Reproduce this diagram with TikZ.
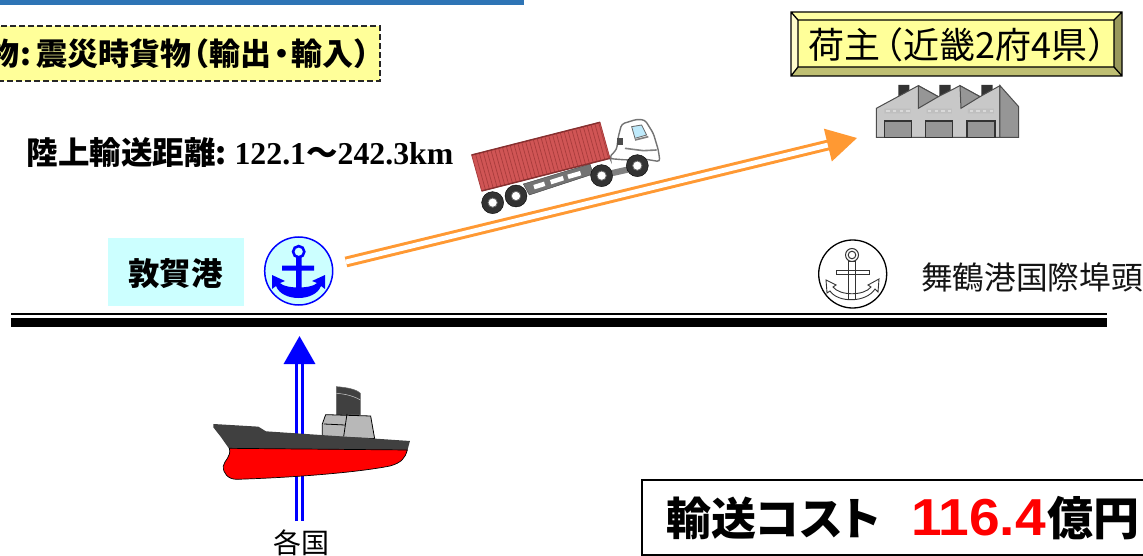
\documentclass[tikz,border=0pt]{standalone}
\usepackage{fontspec}
\usetikzlibrary{arrows.meta,calc}
\newfontfamily\cjk{Noto Sans CJK JP}
\newfontfamily\cjkp[RawFeature=+palt]{Noto Sans CJK JP}
\newfontfamily\timesbold{Liberation Serif}
\newfontfamily\arialbold[FakeStretch=1.06]{Liberation Sans}
\definecolor{topblue}{HTML}{2E74B5}
\definecolor{paleyellow}{HTML}{FFFF99}
\definecolor{palecyan}{HTML}{CCFFFF}
\definecolor{routeorange}{HTML}{FF9933}
\definecolor{hullgray}{HTML}{404040}
\definecolor{boxred}{HTML}{D05555}
\definecolor{boxreddark}{HTML}{A83C3C}
\definecolor{facgray}{HTML}{C8C8C8}
\definecolor{facdark}{HTML}{969696}
\newcommand{\pxfont}[1]{\fontsize{#1}{#1}\selectfont}
\tikzset{
  x=1pt,y=-1pt,
  txt/.style={inner sep=0pt,outer sep=0pt,anchor=base west,text=black},
  railthin/.style={line width=2.6pt,draw=black,line cap=butt},
  railthick/.style={line width=9pt,draw=black,line cap=butt},
  orangeroute/.style={draw=routeorange,line width=3pt,double=white,double distance=4.8pt,
     -{Triangle[length=30pt,width=33pt]}},
  blueroute/.style={draw=blue,line width=3.5pt,double=white,double distance=2.7pt,
     -{Triangle[length=28pt,width=31pt]}},
  zoomtwo/.style={shift={(440,90)},x=0.3333pt,y=-0.3333pt},
  zoomthree/.style={shift={(780,0)},x=0.3333pt,y=-0.3333pt},
  zoomsix/.style={shift={(200,340)},x=0.3333pt,y=-0.3333pt},
  wheeltire/.style={fill=black!80,draw=black},
  wheelhub/.style={fill=white,draw=black!60,line width=.8pt},
}
\begin{document}
\begin{tikzpicture}
\useasboundingbox (0,0) rectangle (1143,556);
\clip (0,0) rectangle (1143,556);
\fill[white] (0,0) rectangle (1143,556);

% top bar
\fill[topblue] (0,0) rectangle (524,5);

% dashed title box
\draw[fill=paleyellow,draw=black!85,line width=1.5pt,dash pattern=on 6pt off 3pt] (-10,26) rectangle (380,81);
\node[txt] (cargo) at (-11,66) {\cjk\bfseries\pxfont{31}物\kern1pt{:}\kern4.5pt 震災時貨物\kern-12.5pt（輸出\kern-5.5pt・\kern-5.5pt輸入）};

% distance
\node[txt] (dist) at (27,165) {\cjk\bfseries\pxfont{31.5}陸上輸送距離{:}\kern7.5pt\timesbold\bfseries\pxfont{31.8}122.1\cjk\bfseries\pxfont{31.5}～\timesbold\bfseries\pxfont{31.8}242.3km};

% shipper box
\fill[paleyellow] (791,12) rectangle (1122,76);
\fill[paleyellow!90!white] (791,12) -- (1122,12) -- (1114,20) -- (798,20) -- cycle;
\fill[yellow!20!white] (791,12) -- (798,20) -- (798,67) -- (791,76) -- cycle;
\fill[paleyellow!75!black] (791,76) -- (798,67) -- (1114,67) -- (1122,76) -- cycle;
\fill[paleyellow!60!black] (1122,12) -- (1114,20) -- (1114,67) -- (1122,76) -- cycle;
\draw[black,line width=1.3pt] (791,12) rectangle (1122,76) (798,20) rectangle (1114,67)
  (791,12) -- (798,20) (1122,12) -- (1114,20) (791,76) -- (798,67) (1122,76) -- (1114,67);
\node[txt] (shipper) at (808,59) {\cjk\pxfont{36}荷主\kern-12.6pt（近畿2府4県）};

% factory
\begin{scope}[zoomthree]
  \fill[black!80] (355,255) rectangle (388,290) (478,255) rectangle (512,290) (604,255) rectangle (638,290);
  \fill[facgray,draw=black!70,line width=1pt] (289,325) -- (415,257) -- (475,290) -- (540,257) -- (600,290) -- (660,257) -- (660,412) -- (289,412) -- cycle;
  \fill[facdark,draw=black!70,line width=1pt] (415,257) -- (475,290) -- (415,325) -- cycle
     (540,257) -- (600,290) -- (543,325) -- cycle (660,257) -- (716,320) -- (716,412) -- (660,412) -- cycle;
  \fill[facdark,draw=black!80,line width=1.2pt] (313,363) rectangle (395,412) (437,363) rectangle (518,412) (561,363) rectangle (645,412);
  \fill[black!25] (313,326) rectangle (392,340) (440,326) rectangle (516,340) (564,326) rectangle (642,340);
  \foreach \qx in {325,345,365,385,450,470,490,510,575,595,615,635}
    \fill[white!85!black] (\qx-6,330) rectangle (\qx+4,336);
\end{scope}

% truck
\begin{scope}[zoomtwo]
  \fill[black!55,draw=black!75] (250,282) -- (450,222) -- (460,252) -- (268,315) -- cycle;
  \fill[white] (280,285) -- (312,275) -- (316,288) -- (284,298) -- cycle
     (330,270) -- (368,258) -- (372,271) -- (334,283) -- cycle
     (382,254) -- (420,243) -- (424,256) -- (386,267) -- cycle;
  \fill[black!50] (515,240) -- (560,230) -- (565,248) -- (520,258) -- cycle;
  \filldraw[fill=white,draw=black!55,line width=1.4pt,rounded corners=3pt] (508,202) -- (530,178) -- (535,140) -- (545,102) -- (590,88) -- (615,90) -- (640,130) -- (655,180) -- (660,215) -- (600,205) -- (560,210) -- (510,206) -- cycle;
  \filldraw[fill=cyan!25,draw=black!60,line width=.8pt] (575,110) -- (605,105) -- (620,135) -- (585,145) -- cycle;
  \draw[black!50,line width=1.6pt] (585,150) -- (625,140) (555,175) -- (610,182) -- (650,180);
  \fill[black!70] (532,145) rectangle (548,165);
  \fill[boxred,draw=boxreddark,line width=.8pt] (95,195) -- (480,97) -- (510,205) -- (125,303) -- cycle;
  \foreach \qt in {0.03,0.06,...,1.0}
    \draw[boxreddark,line width=.7pt] ($(95,195)!\qt!(480,97)$) -- ($(125,303)!\qt!(510,205)$);
  \draw[boxreddark!80!black,line width=1.4pt] (95,195) -- (480,97) (125,303) -- (510,205);
  \foreach \qx/\qy in {158/338,228/318,485/257,592/227}{
    \fill[wheeltire] (\qx,\qy) circle[radius=33];
    \fill[wheelhub] (\qx,\qy) circle[radius=14];
  }
\end{scope}

% port box
\fill[palecyan] (108,238) rectangle (244,306);
\node[txt] (tsuruga) at (128,285) {\cjk\bfseries\pxfont{31.5}敦賀港};

% blue anchor
\node[circle,draw=blue,fill=palecyan,line width=1.5pt,minimum size=68pt,inner sep=0pt] (portsym) at (298.7,271) {};
\draw[blue,line width=2.6pt] (298.7,251.7) circle[radius=5.6];
\fill[blue] (296,257) rectangle (301.6,294) (282,265.5) rectangle (314,270.5);
\fill[blue] (272,275) -- (285,281) -- (280,283) .. controls (285,289) and (312,289) .. (317,283) -- (312,281) -- (325,275) -- (325,289) -- (321,286) .. controls (315,302) and (282,302) .. (276,286) -- (272,289) -- cycle;

% maizuru anchor
\node[circle,draw=black,fill=white,line width=1.3pt,minimum size=68pt,inner sep=0pt] (maizurusym) at (852.7,274) {};
\draw[black!80,line width=1pt] (852,255) circle[radius=6.5] (852,255) circle[radius=3.8];
\draw[black!80,line width=.9pt,fill=white] (848.5,261) rectangle (855.5,299) (836,270) rectangle (869,274);
\draw[black!80,line width=.9pt] (826,280) -- (836,285) -- (833,287) .. controls (840,296) and (864,296) .. (871,287) -- (868,285) -- (879,279) -- (878,292) -- (875,289) .. controls (866,303) and (838,303) .. (830,291) -- (827,293) -- cycle;
\node[txt] (maizuru) at (921,289) {\cjk\pxfont{31.7}\color{black!92}舞鶴港国際埠頭};

% rails
\coordinate (railL) at (11,314);
\coordinate (railR) at (1107,314);
\coordinate (railLb) at (11,322.5);
\coordinate (railRb) at (1107,322.5);
\draw[railthin] (railL) -- (railR);
\draw[railthick] (railLb) -- (railRb);

% routes
\coordinate (orangeS) at (346,262);
\coordinate (orangeE) at (857,138);
\draw[orangeroute] (orangeS) -- (orangeE);
\coordinate (blueS) at (299.5,521);
\coordinate (blueE) at (299.5,336);
\draw[blueroute] (blueS) -- (blueE);

% ship
\begin{scope}[zoomsix]
  \filldraw[fill=hullgray,draw=black!60,line width=.5pt] (409,140) .. controls (440,142) and (470,148) .. (481,160) -- (481,225) -- (409,225) -- cycle;
  \draw[white!80!black,line width=.5pt] (409,160) .. controls (440,162) and (465,170) .. (481,180);
  \filldraw[fill=black!28,draw=black,line width=.8pt] (377,224) -- (512,228) -- (524,296) -- (367,290) -- (367,252) -- cycle;
  \draw[black,line width=.8pt] (441,222) -- (431,290) (372,252) -- (434,255);
  \fill[hullgray] (40,252) -- (175,260) -- (198,274) -- (630,303) -- (622,332) -- (88,327) -- (62,290) -- (40,262) -- cycle;
  \filldraw[fill=red,draw=black,line width=.7pt] (88,325) -- (622,330) .. controls (615,355) and (605,368) .. (570,378) .. controls (480,396) and (300,412) .. (110,418) .. controls (85,418) and (68,400) .. (70,378) .. controls (72,362) and (95,350) .. (88,325) -- cycle;
\end{scope}

\node[txt] (origin) at (273,553) {\cjk\pxfont{28}各国};

% cost box
\draw[black,line width=2pt,fill=white] (642,480) rectangle (1160,555);
\node[txt] (cost) at (666,535) {\cjkp\bfseries\pxfont{45}輸送コスト};
\node[txt] (costnum) at (911,535) {\arialbold\bfseries\pxfont{52}\color{red}116.4};
\node[txt] (costunit) at (1047,535) {\cjk\bfseries\pxfont{46}億円};
\end{tikzpicture}
\end{document}
